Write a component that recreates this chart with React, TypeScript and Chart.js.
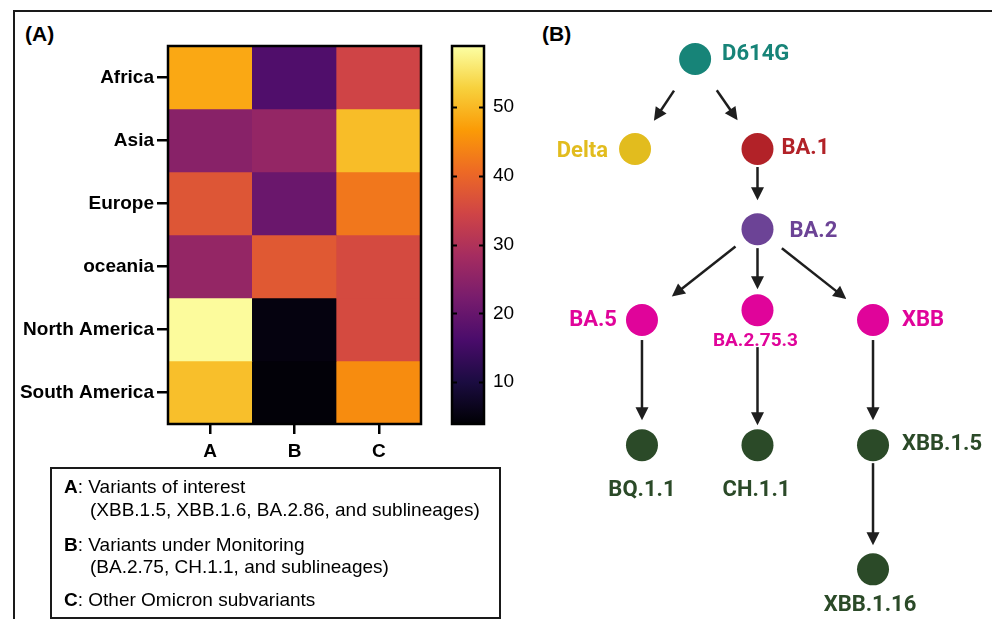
import React, { useEffect, useRef } from "react";
import { Chart, registerables } from "chart.js";
Chart.register(...registerables);

// ---------------- data ----------------
const regions = ["Africa", "Asia", "Europe", "oceania", "North America", "South America"];
const variantGroups = ["A", "B", "C"];
const valuesA = [48.2, 24.4, 37.4, 26.1, 58.4, 50.8];
const valuesB = [16.9, 26.1, 20.4, 38.0, 5.0, 4.3];
const valuesC = [34.5, 50.5, 42.3, 35.5, 35.5, 44.9];
const colorScaleMin = 3.9;
const colorScaleMax = 58.9;
const colorBarTicks = [10, 20, 30, 40, 50];

const legendKeys = ["A", "B", "C"];
const legendTitles = ["Variants of interest", "Variants under Monitoring", "Other Omicron subvariants"];
const legendDetails = ["(XBB.1.5, XBB.1.6, BA.2.86, and sublineages)", "(BA.2.75, CH.1.1, and sublineages)", ""];

const lineageNodes = ["D614G", "Delta", "BA.1", "BA.2", "BA.5", "BA.2.75.3", "XBB", "BQ.1.1", "CH.1.1", "XBB.1.5", "XBB.1.16"];
const lineageX = [0.46, -0.06, 1, 1, 0, 1, 2, 0, 1, 2, 2];
const lineageY = [0, 1, 1, 1.89, 2.9, 2.79, 2.9, 4.29, 4.29, 4.29, 5.67];
const lineageEdgeFrom = [0, 0, 2, 3, 3, 3, 4, 5, 6, 9];
const lineageEdgeTo = [1, 2, 3, 4, 5, 6, 7, 8, 9, 10];

// ---------------- styles ----------------
const FONT = "Arial, 'Liberation Sans', Helvetica, sans-serif";
const TREE_FONT = "Roboto, 'Noto Sans', sans-serif";
const INFERNO = ["#000004", "#1b0c41", "#4a0c6b", "#781c6d", "#a52c60", "#cf4446", "#ed6925", "#fb9b06", "#f7d13d", "#fcffa4"];

const edgeStartGap = [38, 38, 18, 28, 19, 31, 20, 37, 20, 18];
const edgeEndGap = [34, 35, 29, 38, 21, 34, 25, 20, 25, 24];

const nodeStyle: Record<string, { color: string; align: CanvasTextAlign; dx: number; dy: number; size: number }> = {
  "D614G": { color: "#178478", align: "left", dx: 27, dy: -7, size: 22 },
  "Delta": { color: "#e2bc1e", align: "right", dx: -27, dy: 0, size: 22 },
  "BA.1": { color: "#b22228", align: "left", dx: 24, dy: -3, size: 22 },
  "BA.2": { color: "#6c4396", align: "left", dx: 32, dy: 0, size: 22 },
  "BA.5": { color: "#e0049a", align: "right", dx: -25, dy: -2, size: 22 },
  "BA.2.75.3": { color: "#e0049a", align: "center", dx: -2, dy: 29, size: 19 },
  "XBB": { color: "#e0049a", align: "left", dx: 29, dy: -2, size: 22 },
  "BQ.1.1": { color: "#2b4a28", align: "center", dx: 0, dy: 43, size: 22 },
  "CH.1.1": { color: "#2b4a28", align: "center", dx: -1, dy: 43, size: 22 },
  "XBB.1.5": { color: "#2b4a28", align: "left", dx: 29, dy: -3, size: 22 },
  "XBB.1.16": { color: "#2b4a28", align: "center", dx: -3, dy: 34, size: 22 },
};

function hexToRgb(h: string) {
  const n = parseInt(h.slice(1), 16);
  return [(n >> 16) & 255, (n >> 8) & 255, n & 255];
}
function infernoAt(t: number) {
  t = Math.max(0, Math.min(1, t));
  const s = t * (INFERNO.length - 1);
  const i = Math.min(Math.floor(s), INFERNO.length - 2);
  const f = s - i;
  const a = hexToRgb(INFERNO[i]);
  const b = hexToRgb(INFERNO[i + 1]);
  const c = a.map((v, k) => Math.round(v + (b[k] - v) * f));
  return `rgb(${c[0]},${c[1]},${c[2]})`;
}
function colorFor(v: number) {
  return infernoAt((v - colorScaleMin) / (colorScaleMax - colorScaleMin));
}

const framePlugin = {
  id: "frame",
  afterDatasetsDraw(chart: any) {
    const { ctx, chartArea: a } = chart;
    ctx.save();
    ctx.strokeStyle = "#000";
    ctx.lineWidth = 2.5;
    ctx.strokeRect(a.left, a.top, a.right - a.left, a.bottom - a.top);
    ctx.restore();
  },
};

const colorTickPlugin = {
  id: "cbticks",
  afterDatasetsDraw(chart: any) {
    const { ctx, chartArea: a } = chart;
    const scale = chart.scales.y;
    ctx.save();
    ctx.strokeStyle = "#000";
    ctx.lineWidth = 2;
    colorBarTicks.forEach((v) => {
      const y = Math.round(scale.getPixelForValue(v)) + 0.5;
      ctx.beginPath();
      ctx.moveTo(a.left, y);
      ctx.lineTo(a.left + 5, y);
      ctx.moveTo(a.right - 5, y);
      ctx.lineTo(a.right, y);
      ctx.stroke();
    });
    ctx.restore();
  },
};

const treePlugin = {
  id: "tree",
  afterDatasetsDraw(chart: any) {
    const ctx = chart.ctx;
    const pts = chart.getDatasetMeta(0).data;
    ctx.save();
    ctx.strokeStyle = "#1e1e1e";
    ctx.fillStyle = "#1e1e1e";
    ctx.lineWidth = 2.5;
    lineageEdgeFrom.forEach((from, k) => {
      const p1 = pts[from];
      const p2 = pts[lineageEdgeTo[k]];
      const dx = p2.x - p1.x;
      const dy = p2.y - p1.y;
      const len = Math.hypot(dx, dy);
      const ux = dx / len;
      const uy = dy / len;
      const sx = p1.x + ux * edgeStartGap[k];
      const sy = p1.y + uy * edgeStartGap[k];
      const ex = p2.x - ux * edgeEndGap[k];
      const ey = p2.y - uy * edgeEndGap[k];
      const head = 13;
      const hw = 6.5;
      ctx.beginPath();
      ctx.moveTo(sx, sy);
      ctx.lineTo(ex - ux * head * 0.7, ey - uy * head * 0.7);
      ctx.stroke();
      const bx = ex - ux * head;
      const by = ey - uy * head;
      ctx.beginPath();
      ctx.moveTo(ex, ey);
      ctx.lineTo(bx - uy * hw, by + ux * hw);
      ctx.lineTo(bx + uy * hw, by - ux * hw);
      ctx.closePath();
      ctx.fill();
    });
    lineageNodes.forEach((name, i) => {
      const st = nodeStyle[name];
      const p = pts[i];
      ctx.font = `bold ${st.size}px ${TREE_FONT}`;
      ctx.fillStyle = st.color;
      ctx.textAlign = st.align;
      ctx.textBaseline = "alphabetic";
      ctx.fillText(name, p.x + st.dx, p.y + st.dy + st.size * 0.356);
    });
    ctx.restore();
  },
};

export default function App() {
  const heatRef = useRef<HTMLCanvasElement>(null);
  const barRef = useRef<HTMLCanvasElement>(null);
  const treeRef = useRef<HTMLCanvasElement>(null);

  useEffect(() => {
    const cellValues = regions.map((_, i) => [valuesA[i], valuesB[i], valuesC[i]]);
    const heat = new Chart(heatRef.current!, {
      type: "bar",
      data: {
        labels: variantGroups,
        datasets: regions.map((r, i) => ({
          label: r,
          data: cellValues[i].map(() => [i, i + 1]) as any,
          backgroundColor: cellValues[i].map(colorFor),
          borderWidth: 0,
          grouped: false,
          barPercentage: 1,
          categoryPercentage: 1,
        })),
      },
      options: {
        animation: false,
        responsive: false,
        events: [],
        layout: { autoPadding: false, padding: { top: 46, right: 19, left: 0, bottom: 0 } },
        plugins: { legend: { display: false }, tooltip: { enabled: false } },
        scales: {
          x: {
            type: "category",
            offset: true,
            border: { display: false },
            grid: { drawOnChartArea: false, offset: false, tickLength: 10, lineWidth: 2.5, color: "#000" },
            ticks: { font: { family: FONT, size: 19, weight: "bold" }, color: "#000", padding: 6, maxRotation: 0 },
            afterFit: (s: any) => { s.height = 46; },
          },
          y: {
            type: "linear",
            min: 0,
            max: regions.length,
            reverse: true,
            border: { display: false },
            grid: { drawOnChartArea: false, tickLength: 11, lineWidth: 2.5, color: "#000" },
            afterBuildTicks: (s: any) => { s.ticks = regions.map((_, i) => ({ value: i + 0.5 })); },
            ticks: {
              autoSkip: false,
              font: { family: FONT, size: 19, weight: "bold" },
              color: "#000",
              padding: 3,
              callback: (_v: any, idx: number) => regions[idx],
            },
            afterFit: (s: any) => { s.width = 168; },
          },
        },
      } as any,
      plugins: [framePlugin],
    });

    const bar = new Chart(barRef.current!, {
      type: "bar",
      data: {
        labels: [""],
        datasets: [{
          data: [[colorScaleMin, colorScaleMax]] as any,
          backgroundColor: (c: any) => {
            const a = c.chart.chartArea;
            if (!a) return "#000";
            const g = c.chart.ctx.createLinearGradient(0, a.bottom, 0, a.top);
            INFERNO.forEach((col, i) => g.addColorStop(i / (INFERNO.length - 1), col));
            return g;
          },
          borderWidth: 0,
          barPercentage: 1,
          categoryPercentage: 1,
        }],
      },
      options: {
        animation: false,
        responsive: false,
        events: [],
        layout: { autoPadding: false, padding: { top: 46, left: 12, bottom: 46, right: 0 } },
        plugins: { legend: { display: false }, tooltip: { enabled: false } },
        scales: {
          x: { display: false },
          y: {
            type: "linear",
            position: "right",
            min: colorScaleMin,
            max: colorScaleMax,
            border: { display: false },
            grid: { display: false, drawTicks: false },
            afterBuildTicks: (s: any) => { s.ticks = colorBarTicks.map((v) => ({ value: v })); },
            ticks: { font: { family: FONT, size: 19 }, color: "#000", padding: 9 },
            afterFit: (s: any) => { s.width = 36; },
          },
        },
      } as any,
      plugins: [framePlugin, colorTickPlugin],
    });

    const tree = new Chart(treeRef.current!, {
      type: "scatter",
      data: {
        datasets: [{
          data: lineageNodes.map((_, i) => ({ x: lineageX[i], y: lineageY[i] })),
          backgroundColor: lineageNodes.map((n) => nodeStyle[n].color),
          pointRadius: 16,
          pointHoverRadius: 16,
          borderWidth: 0,
          clip: false,
        }],
      },
      options: {
        animation: false,
        responsive: false,
        events: [],
        layout: { autoPadding: false, padding: 0 },
        plugins: { legend: { display: false }, tooltip: { enabled: false } },
        scales: {
          x: { type: "linear", display: false, min: -1.229, max: 3.030 },
          y: { type: "linear", display: false, min: -0.656, max: 6.222, reverse: true },
        },
      } as any,
      plugins: [treePlugin],
    });

    return () => {
      heat.destroy();
      bar.destroy();
      tree.destroy();
    };
  }, []);

  const legendLineCenters = [[487, 510], [545, 567], [600, 0]];
  const lineStyle = (left: number, center: number): React.CSSProperties => ({
    position: "absolute", left, top: center - 11, height: 22, lineHeight: "22px",
    fontFamily: FONT, fontSize: 19, color: "#000", whiteSpace: "nowrap",
  });

  return (
    <div style={{ position: "fixed", left: 0, top: 0, width: 992, height: 619, background: "#fff", overflow: "hidden" }}>
      <div style={{ position: "absolute", left: 13, top: 10, width: 990, height: 620, borderTop: "2px solid #1a1a1a", borderLeft: "2px solid #1a1a1a" }} />
      <div style={{ position: "absolute", left: 25, top: 22, lineHeight: "24px", fontFamily: FONT, fontSize: 21, fontWeight: "bold" }}>(A)</div>
      <div style={{ position: "absolute", left: 542, top: 22, lineHeight: "24px", fontFamily: FONT, fontSize: 21, fontWeight: "bold" }}>(B)</div>
      <canvas ref={heatRef} width={440} height={470} style={{ position: "absolute", left: 0, top: 0 }} />
      <canvas ref={barRef} width={80} height={470} style={{ position: "absolute", left: 440, top: 0 }} />
      <canvas ref={treeRef} width={492} height={619} style={{ position: "absolute", left: 500, top: 0 }} />
      <div style={{ position: "absolute", left: 50, top: 467, width: 451, height: 152, border: "2px solid #1a1a1a", boxSizing: "border-box" }} />
      {legendKeys.map((k, i) => (
        <React.Fragment key={k}>
          <div style={lineStyle(64, legendLineCenters[i][0])}><b>{k}</b>: {legendTitles[i]}</div>
          {legendDetails[i] ? <div style={lineStyle(90, legendLineCenters[i][1])}>{legendDetails[i]}</div> : null}
        </React.Fragment>
      ))}
    </div>
  );
}
